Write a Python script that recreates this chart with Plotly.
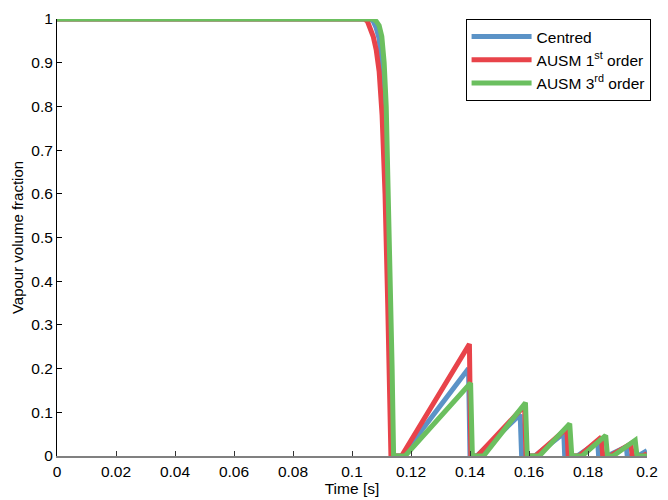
import plotly.graph_objects as go

# Time [s] and vapour volume fraction for each scheme
t_centred = [0.0, 0.1062, 0.1072, 0.1082, 0.1092, 0.1100, 0.1108, 0.1116, 0.1124, 0.1131, 0.1137,
             0.1170, 0.1395, 0.1400,
             0.1423, 0.1570, 0.1575,
             0.1620, 0.1718, 0.1721,
             0.1763, 0.1833, 0.1836,
             0.1865, 0.1930, 0.1933,
             0.1970, 0.2000]
v_centred = [1.0, 1.0, 0.995, 0.98, 0.955, 0.90, 0.80, 0.62, 0.40, 0.20, 0.0,
             0.0, 0.200, 0.0,
             0.0, 0.095, 0.0,
             0.0, 0.052, 0.0,
             0.0, 0.032, 0.0,
             0.0, 0.021, 0.0,
             0.0, 0.012]

t_ausm1 = [0.0, 0.1042, 0.1052, 0.1062, 0.1072, 0.1082, 0.1092, 0.1102, 0.1112, 0.1121, 0.1127, 0.1132,
           0.1168, 0.1398, 0.1403,
           0.1425, 0.1585, 0.1590,
           0.1622, 0.1728, 0.1733,
           0.1770, 0.1845, 0.1850,
           0.1875, 0.1945, 0.1950,
           0.1985, 0.2000]
v_ausm1 = [1.0, 1.0, 0.995, 0.98, 0.96, 0.93, 0.88, 0.78, 0.60, 0.35, 0.18, 0.0,
           0.0, 0.256, 0.0,
           0.0, 0.115, 0.0,
           0.0, 0.063, 0.0,
           0.0, 0.043, 0.0,
           0.0, 0.028, 0.0,
           0.0, 0.005]

t_ausm3 = [0.0, 0.1072, 0.1082, 0.1092, 0.1101, 0.1109, 0.1116, 0.1123, 0.1130, 0.1136, 0.1141,
           0.1180, 0.1402, 0.1408,
           0.1446, 0.1588, 0.1594,
           0.1635, 0.1738, 0.1745,
           0.1780, 0.1860, 0.1866,
           0.1885, 0.1960, 0.1966,
           0.2000]
v_ausm3 = [1.0, 1.0, 0.995, 0.985, 0.96, 0.90, 0.80, 0.62, 0.40, 0.20, 0.0,
           0.0, 0.167, 0.0,
           0.0, 0.122, 0.0,
           0.0, 0.074, 0.0,
           0.0, 0.047, 0.0,
           0.0, 0.036, 0.0,
           0.0]

names = ["Centred", "AUSM 1<sup>st</sup> order", "AUSM 3<sup>rd</sup> order"]
colors = ["#5b93c7", "#e8434a", "#6bbf5f"]

x_ticks = [0, 0.02, 0.04, 0.06, 0.08, 0.1, 0.12, 0.14, 0.16, 0.18, 0.2]
x_labels = ["0", "0.02", "0.04", "0.06", "0.08", "0.1", "0.12", "0.14", "0.16", "0.18", "0.2"]
y_ticks = [0, 0.1, 0.2, 0.3, 0.4, 0.5, 0.6, 0.7, 0.8, 0.9, 1]
y_labels = ["0", "0.1", "0.2", "0.3", "0.4", "0.5", "0.6", "0.7", "0.8", "0.9", "1"]

fig = go.Figure()
for t, v, n, c in zip([t_centred, t_ausm1, t_ausm3], [v_centred, v_ausm1, v_ausm3], names, colors):
    fig.add_trace(go.Scatter(x=t, y=v, mode="lines", name=n,
                             line=dict(color=c, width=5)))

font = dict(family="Liberation Sans, Arial, sans-serif", size=15.5, color="black")
title_font = dict(family="Liberation Sans, Arial, sans-serif", size=15, color="black")
fig.update_layout(
    width=668, height=500,
    margin=dict(l=57, r=12, t=10, b=44),
    paper_bgcolor="white", plot_bgcolor="white",
    font=font,
    showlegend=True,
    legend=dict(x=0.6925, y=1.0, xanchor="left", yanchor="top",
                bgcolor="white", bordercolor="black", borderwidth=1,
                font=font, tracegroupgap=0, itemwidth=60),
    xaxis=dict(range=[0, 0.2], tickvals=x_ticks, ticktext=x_labels,
               showgrid=False, zeroline=False, showline=True,
               linecolor="#808080", linewidth=2,
               ticks="inside", ticklen=5, tickcolor="#333",
               title=dict(text="Time [s]", font=font, standoff=0)),
    yaxis=dict(range=[0, 1], tickvals=y_ticks, ticktext=y_labels,
               showgrid=False, zeroline=False, showline=True,
               linecolor="black", linewidth=1,
               ticks="inside", ticklen=5, tickcolor="black",
               title=dict(text="Vapour volume fraction", font=title_font, standoff=4)),
)

fig.write_html("out.html")
